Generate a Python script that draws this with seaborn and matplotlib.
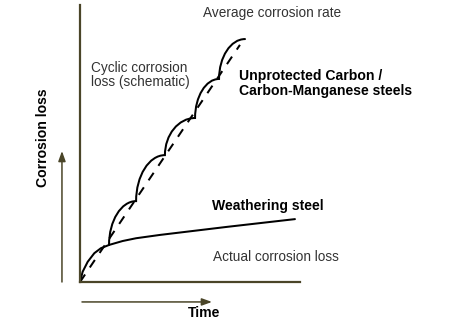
import matplotlib
matplotlib.use("Agg")
import matplotlib.pyplot as plt
import seaborn as sns
import pandas as pd
from matplotlib.path import Path
from matplotlib.patches import PathPatch

# ---- data (schematic, in axis units: time 0..10, loss 0..10) ----
weather_time = [0.0, 0.12, 0.35, 0.65, 0.95, 1.33, 1.94, 2.55, 3.64, 6.68, 9.77]
weather_loss = [0.0, 0.37, 0.73, 1.04, 1.22, 1.34, 1.48, 1.58, 1.70, 1.99, 2.27]

cycle_time = [1.32, 2.55, 3.86, 5.23, 6.32, 7.50]   # cusps of cyclic corrosion curve
cycle_loss = [1.34, 2.92, 4.58, 5.92, 7.33, 8.77]

avg_time = [0.0, 7.27]
avg_loss = [0.0, 8.56]

labels = {
    "avg": "Average corrosion rate",
    "cyclic": "Cyclic corrosion\nloss (schematic)",
    "unprot": "Unprotected Carbon /\nCarbon-Manganese steels",
    "weather": "Weathering steel",
    "actual": "Actual corrosion loss",
    "x": "Time",
    "y": "Corrosion loss",
}

sns.set_theme(style="white")
plt.rcParams["font.family"] = ["Liberation Sans", "DejaVu Sans"]

W, H = 454, 325
fig = plt.figure(figsize=(W / 100, H / 100), dpi=100)
fig.patch.set_facecolor("white")
ax = fig.add_axes([80 / W, 43 / H, 220 / W, 277 / H])
ax.set_xlim(0, 10)
ax.set_ylim(0, 10)
ax.set_xticks([])
ax.set_yticks([])
axis_col = "#4a4528"
for s in ["top", "right"]:
    ax.spines[s].set_visible(False)
for s in ["left", "bottom"]:
    ax.spines[s].set_color(axis_col)
    ax.spines[s].set_linewidth(1.6)

lw = 1.45
df_w = pd.DataFrame({"t": weather_time, "l": weather_loss})
sns.lineplot(data=df_w, x="t", y="l", sort=False, estimator=None, ax=ax,
             color="black", lw=lw, solid_capstyle="round")
df_a = pd.DataFrame({"t": avg_time, "l": avg_loss})
sns.lineplot(data=df_a, x="t", y="l", sort=False, estimator=None, ax=ax,
             color="black", lw=lw, linestyle=(0, (4.5, 4.2)))

# scalloped cyclic curve: quarter-ellipse-like arcs between cusps
k = 0.55
verts = [(cycle_time[0], cycle_loss[0])]
codes = [Path.MOVETO]
for i in range(1, len(cycle_time)):
    x0, y0 = cycle_time[i - 1], cycle_loss[i - 1]
    x1, y1 = cycle_time[i], cycle_loss[i]
    verts += [(x0, y0 + k * (y1 - y0)), (x1 - k * (x1 - x0), y1), (x1, y1)]
    codes += [Path.CURVE4, Path.CURVE4, Path.CURVE4]
ax.add_patch(PathPatch(Path(verts, codes), fill=False, lw=lw, ec="black",
                       capstyle="round", joinstyle="miter"))

ax.set_xlabel("")
ax.set_ylabel("")

reg = dict(fontsize=9.8, color="#333333")
bold = dict(fontsize=10.1, color="black", fontweight="bold")

ax.text(8.73, 9.71, labels["avg"], ha="center", va="center", clip_on=False, **reg)
ax.text(0.5, 7.47, labels["cyclic"], ha="left", va="center", linespacing=1.05,
        clip_on=False, **reg)
ax.text(7.23, 7.17, labels["unprot"], ha="left", va="center", linespacing=1.05,
        clip_on=False, **bold)
ax.text(6.0, 2.74, labels["weather"], ha="left", va="center", clip_on=False, **bold)
ax.text(6.05, 0.90, labels["actual"], ha="left", va="center", clip_on=False, **reg)
ax.text(5.64, -1.12, labels["x"], ha="center", va="center", clip_on=False, **bold)
ax.text(-1.68, 5.2, labels["y"], ha="center", va="center", rotation=90,
        clip_on=False, **bold)

arrow = dict(arrowstyle="-|>,head_length=0.5,head_width=0.18", color=axis_col,
             lw=1.1, shrinkA=0, shrinkB=0)
ax.annotate("", xy=(-0.82, 4.73), xytext=(-0.82, 0.0), arrowprops=arrow,
            annotation_clip=False)
ax.annotate("", xy=(6.0, -0.72), xytext=(0.09, -0.72), arrowprops=arrow,
            annotation_clip=False)

fig.savefig("out.png", dpi=100, facecolor="white")
